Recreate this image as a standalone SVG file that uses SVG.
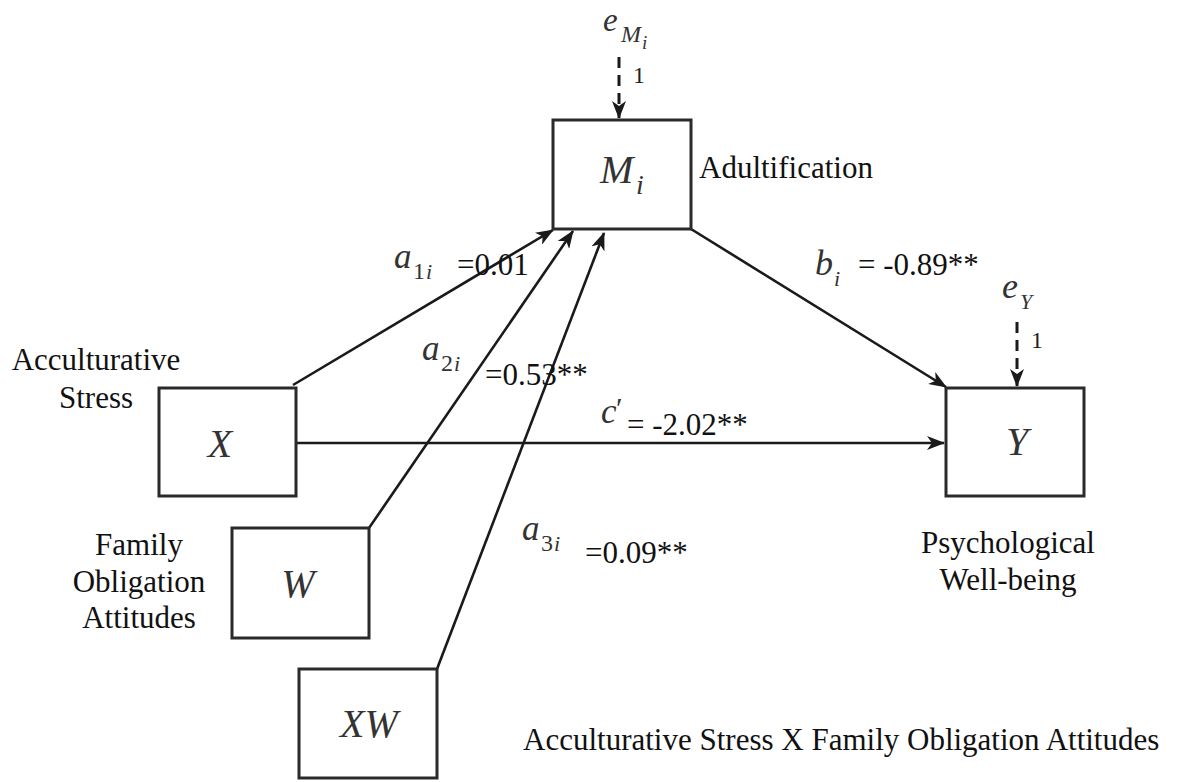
<svg xmlns="http://www.w3.org/2000/svg" width="1180" height="782" viewBox="0 0 1180 782">
<defs>
<marker id="ah" markerUnits="userSpaceOnUse" markerWidth="18" markerHeight="14" viewBox="0 0 18 14" refX="17" refY="7" orient="auto">
<path d="M0,0 L18,7 L0,14 L5,7 z" fill="#1a1a1a"/>
</marker>
<style>
.box{fill:#fff;stroke:#2a2a2a;stroke-width:3}
.ln{fill:none;stroke:#1a1a1a;stroke-width:2.6}
.dash{fill:none;stroke:#1a1a1a;stroke-width:3;stroke-dasharray:11 7}
.lbl{font-family:"Liberation Serif","Times New Roman",serif;font-size:31px;fill:#111}
.mid{text-anchor:middle}
.math{font-family:"Liberation Serif","Times New Roman",serif;font-style:italic;fill:#333}
.var{font-size:40px}
.sub{font-size:24px}
.subi{font-size:22px}
.one{font-family:"Liberation Serif","Times New Roman",serif;font-size:24px;fill:#222}
</style>
</defs>
<rect width="1180" height="782" fill="#fff"/>

<g id="connectors">
<line class="ln" x1="293" y1="385" x2="553" y2="230" marker-end="url(#ah)"/>
<line class="ln" x1="369" y1="528" x2="573" y2="231" marker-end="url(#ah)"/>
<line class="ln" x1="437" y1="669" x2="604" y2="233" marker-end="url(#ah)"/>
<line class="ln" x1="691" y1="229" x2="946" y2="387" marker-end="url(#ah)"/>
<line class="ln" x1="296" y1="443" x2="944" y2="443" marker-end="url(#ah)"/>
<line class="dash" x1="619" y1="57" x2="619" y2="118" marker-end="url(#ah)"/>
<line class="dash" x1="1017" y1="322" x2="1017" y2="386" marker-end="url(#ah)"/>
</g>

<g id="node-M">
<rect class="box" x="553" y="120" width="138" height="109"/>
<text class="math var" x="600" y="183">M</text>
<text class="math" style="font-size:28px" x="636" y="194">i</text>
<text class="lbl" x="699" y="178">Adultification</text>
</g>

<g id="node-eM">
<text class="math" style="font-size:33px" x="603" y="31">e</text>
<text class="math sub" x="621" y="42">M</text>
<text class="math" style="font-size:19px" x="642" y="49">i</text>
<text class="one" x="633" y="83">1</text>
</g>

<g id="node-X">
<rect class="box" x="159" y="388" width="137" height="108"/>
<text class="math var mid" x="220" y="457">X</text>
<text class="lbl mid" x="96" y="370">Acculturative</text>
<text class="lbl mid" x="96" y="408">Stress</text>
</g>

<g id="node-W">
<rect class="box" x="232" y="528" width="137" height="110"/>
<text class="math var mid" x="298" y="597">W</text>
<text class="lbl mid" x="139" y="555">Family</text>
<text class="lbl mid" x="139" y="592">Obligation</text>
<text class="lbl mid" x="139" y="628">Attitudes</text>
</g>

<g id="node-XW">
<rect class="box" x="299" y="669" width="138" height="109"/>
<text class="math var mid" x="369" y="737">XW</text>
<text class="lbl" x="523" y="750">Acculturative Stress X Family Obligation Attitudes</text>
</g>

<g id="node-Y">
<rect class="box" x="946" y="388" width="138" height="108"/>
<text class="math var mid" x="1017" y="455">Y</text>
<text class="lbl mid" x="1008" y="553">Psychological</text>
<text class="lbl mid" x="1008" y="590">Well-being</text>
</g>

<g id="node-eY">
<text class="math" style="font-size:36px" x="1002" y="298">e</text>
<text class="math" style="font-size:22px" x="1020" y="309">Y</text>
<text class="one" x="1031" y="348">1</text>
</g>

<g id="labels">
<text class="math" style="font-size:35px" x="394" y="268">a</text>
<text class="math sub" style="font-style:normal" x="413" y="279">1</text>
<text class="math subi" x="426" y="279">i</text>
<text class="lbl" x="457" y="275">=0.01</text>

<text class="math" style="font-size:35px" x="422" y="360">a</text>
<text class="math sub" style="font-style:normal" x="441" y="371">2</text>
<text class="math subi" x="454" y="371">i</text>
<text class="lbl" x="485" y="385">=0.53**</text>

<text class="math" style="font-size:35px" x="522" y="540">a</text>
<text class="math sub" style="font-style:normal" x="541" y="551">3</text>
<text class="math subi" x="554" y="551">i</text>
<text class="lbl" x="585" y="563">=0.09**</text>

<text class="math" style="font-size:36px" x="815" y="275">b</text>
<text class="math subi" x="834" y="286">i</text>
<text class="lbl" x="858" y="275">= -0.89**</text>

<text class="math" style="font-size:35px" x="601" y="423">c</text>
<text class="math" style="font-size:30px;font-style:normal" x="616" y="418">′</text>
<text class="lbl" x="627" y="435">= -2.02**</text>
</g>
</svg>
